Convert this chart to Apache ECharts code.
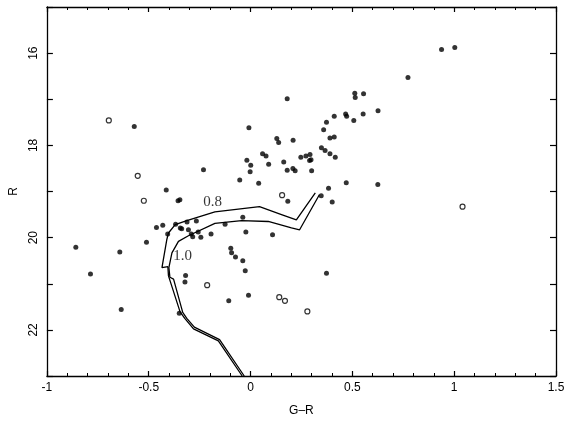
<!DOCTYPE html>
<html>
<head>
<meta charset="utf-8">
<script src="https://cdn.jsdelivr.net/npm/echarts@6/dist/echarts.min.js"></script>
<style>
html,body{margin:0;padding:0;background:#fff;}
#c{width:570px;height:422px;}
</style>
</head>
<body>
<div id="c"></div>
<script>
// Filled dots: [G-R, R]
var filledStars = [
[-0.571,17.59],[-0.008,17.62],[0.180,16.99],[0.129,17.85],[0.138,17.94],
[-0.231,18.53],[-0.018,18.32],[0.001,18.43],[-0.002,18.57],[0.059,18.18],
[0.076,18.23],[0.089,18.41],[0.163,18.36],[0.180,18.54],[-0.053,18.75],
[0.040,18.82],[-0.414,18.97],[-0.356,19.20],[-0.347,19.18],[0.183,19.21],
[0.938,15.92],[1.003,15.88],[0.773,16.53],[0.512,16.87],[0.514,16.96],
[0.555,16.88],[0.626,17.25],[0.467,17.32],[0.472,17.37],[0.553,17.32],
[0.507,17.46],[0.411,17.37],[0.373,17.50],[0.359,17.66],[0.390,17.84],
[0.411,17.82],[0.209,17.89],[0.348,18.05],[0.366,18.11],[0.390,18.18],
[0.416,18.26],[0.247,18.26],[0.272,18.23],[0.292,18.20],[0.290,18.33],
[0.297,18.31],[0.208,18.50],[0.219,18.55],[0.300,18.55],[0.470,18.81],
[0.625,18.85],[0.383,18.93],[0.347,19.09],[0.401,19.23],[0.373,20.77],
[-0.858,20.21],[-0.642,20.31],[-0.786,20.79],[-0.635,21.56],[-0.511,20.10],
[-0.462,19.78],[-0.431,19.73],[-0.407,19.92],[-0.368,19.71],[-0.345,19.79],
[-0.338,19.81],[-0.312,19.66],[-0.305,19.83],[-0.291,19.92],[-0.284,19.98],
[-0.266,19.64],[-0.257,19.88],[-0.244,19.99],[-0.194,19.92],[-0.125,19.71],
[-0.038,19.56],[-0.023,19.88],[0.108,19.94],[-0.097,20.23],[-0.093,20.33],
[-0.074,20.42],[-0.038,20.50],[-0.026,20.72],[-0.319,20.82],[-0.322,20.96],
[-0.010,21.25],[-0.107,21.37],[-0.350,21.64]
];
// Open circles: [G-R, R]
var openStars = [
[-0.696,17.46],[-0.554,18.66],[-0.524,19.20],[0.155,19.08],[1.041,19.33],
[-0.213,21.03],[0.141,21.29],[0.169,21.37],[0.279,21.60]
];
// Isochrone 0.8
var iso08 = [
[0.318,19.03],[0.225,19.615],[0.152,19.50],[0.044,19.33],[-0.175,19.44],
[-0.313,19.63],[-0.370,19.72],[-0.403,19.90],[-0.411,20.04],[-0.435,20.65],
[-0.406,20.63],[-0.403,20.83],[-0.395,20.86],[-0.346,21.61],[-0.323,21.75],
[-0.280,21.98],[-0.158,22.24],[-0.041,23.0]
];
// Isochrone 1.0
var iso10 = [
[0.338,19.07],[0.241,19.83],[0.201,19.79],[0.087,19.65],[-0.044,19.63],
[-0.175,19.69],[-0.305,19.96],[-0.354,20.08],[-0.386,20.33],[-0.401,20.65],
[-0.396,20.86],[-0.378,20.90],[-0.333,21.62],[-0.313,21.75],[-0.276,21.94],
[-0.152,22.21],[-0.031,23.0]
];
// Isochrone labels
var isoLabels = [
{text:'0.8', pos:[-0.186,19.22]},
{text:'1.0', pos:[-0.333,20.40]}
];
var xTicks = [-1,-0.5,0,0.5,1,1.5];
var yLabelled = [16,18,20,22];

var chart = echarts.init(document.getElementById('c'));
var axisCommon = {
  axisLine:{show:true,onZero:false,lineStyle:{color:'#000',width:1.3}},
  splitLine:{show:false}
};
chart.setOption({
  animation:false,
  backgroundColor:'#fff',
  grid:{left:45,right:14,top:7,bottom:40,containLabel:false},
  xAxis:[
    Object.assign({}, axisCommon, {
      type:'value', min:-1, max:1.5, interval:0.5, position:'bottom',
      name:'G\u2013R', nameLocation:'middle', nameGap:29,
      nameTextStyle:{fontFamily:'Liberation Sans',fontSize:12,color:'#000'},
      axisTick:{show:true,inside:true,length:5,lineStyle:{color:'#000',width:1.2}},
      minorTick:{show:true,splitNumber:5,length:3,lineStyle:{color:'#000',width:1}},
      axisLabel:{show:true,margin:6,fontFamily:'Liberation Sans',fontSize:12,color:'#000',
        formatter:function(v){return xTicks.indexOf(v)>=0?String(v):'';}}
    }),
    Object.assign({}, axisCommon, {
      type:'value', min:-1, max:1.5, interval:0.5, position:'top',
      axisTick:{show:true,inside:true,length:5,lineStyle:{color:'#000',width:1.2}},
      minorTick:{show:true,splitNumber:5,length:3,lineStyle:{color:'#000',width:1}},
      axisLabel:{show:false}
    })
  ],
  yAxis:[
    Object.assign({}, axisCommon, {
      type:'value', inverse:true, min:15, max:23, interval:1, position:'left',
      name:'R', nameLocation:'middle', nameGap:22, nameRotate:90,
      nameTextStyle:{fontFamily:'Liberation Sans',fontSize:12,color:'#000'},
      axisTick:{show:true,inside:true,length:6,lineStyle:{color:'#000',width:1.2}},
      axisLabel:{show:true,rotate:90,margin:7,fontFamily:'Liberation Sans',fontSize:12,color:'#000',
        formatter:function(v){return yLabelled.indexOf(v)>=0?String(v):'';}}
    }),
    Object.assign({}, axisCommon, {
      type:'value', inverse:true, min:15, max:23, interval:1, position:'right',
      axisTick:{show:true,inside:true,length:6,lineStyle:{color:'#000',width:1.2}},
      axisLabel:{show:false}
    })
  ],
  series:[
    {type:'line', data:iso08, showSymbol:false, symbol:'none', smooth:false,
     lineStyle:{color:'#000',width:1.3}, z:2},
    {type:'line', data:iso10, showSymbol:false, symbol:'none', smooth:false,
     lineStyle:{color:'#000',width:1.3}, z:2},
    {type:'scatter', data:filledStars, symbol:'circle', symbolSize:5,
     itemStyle:{color:'#000'}, z:3},
    {type:'scatter', data:openStars, symbol:'circle', symbolSize:5,
     itemStyle:{color:'#fff',borderColor:'#000',borderWidth:1.2}, z:3},
    {type:'scatter', symbolSize:0, z:4,
     data:isoLabels.map(function(d){return {value:d.pos, name:d.text};}),
     label:{show:true, position:'inside', formatter:function(p){return p.name;},
       fontFamily:'Liberation Serif', fontSize:15, color:'#000'}}
  ]
});
</script>
</body>
</html>
